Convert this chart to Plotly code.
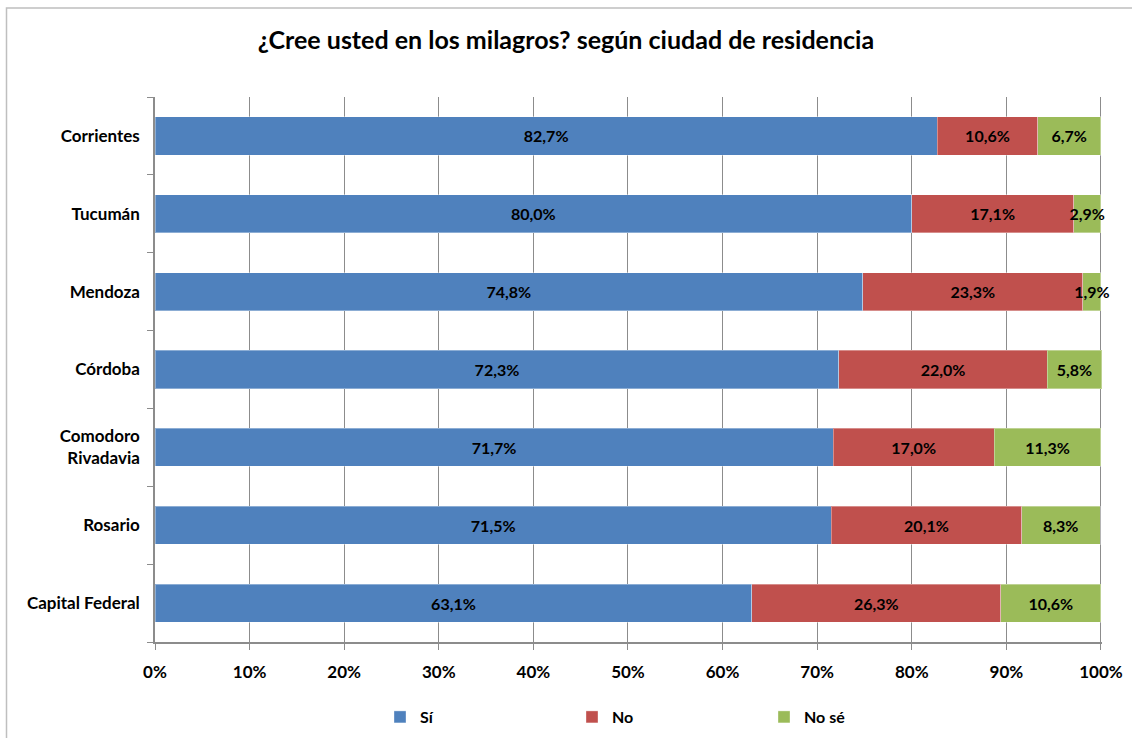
import plotly.graph_objects as go

cities = ["Capital Federal", "Rosario", "Comodoro<br>Rivadavia", "Córdoba", "Mendoza", "Tucumán", "Corrientes"]
si = [63.1, 71.5, 71.7, 72.3, 74.8, 80.0, 82.7]
no = [26.3, 20.1, 17.0, 22.0, 23.3, 17.1, 10.6]
nose = [10.6, 8.3, 11.3, 5.8, 1.9, 2.9, 6.7]
series = [("Sí", si, "#4F81BD"), ("No", no, "#C0504D"), ("No sé", nose, "#9BBB59")]
xticks = [0, 10, 20, 30, 40, 50, 60, 70, 80, 90, 100]

FONT = "Lato"
W, H = 1132, 738
L, R, T, B = 155, 30, 97, 96
pw, ph = W - L - R, H - T - B

fig = go.Figure()
for name, vals, col in series:
    fig.add_trace(go.Bar(
        y=cities, x=vals, name=name, orientation="h",
        marker=dict(color=col, line=dict(color="rgba(255,255,255,0.35)", width=1)),
        text=[f"{v:.1f}%".replace(".", ",") for v in vals],
        textposition="inside", insidetextanchor="middle", textangle=0,
        constraintext="none", cliponaxis=False,
        textfont=dict(family=FONT, size=16, color="black", weight="bold"),
        width=0.49,
    ))

def px_x(p):
    return (p - L) / pw

def px_y(p):
    return (H - B - p) / ph

fig.update_layout(
    barmode="stack",
    width=W, height=H,
    margin=dict(l=L, r=R, t=T, b=B, autoexpand=False),
    paper_bgcolor="white", plot_bgcolor="white",
    font=dict(family=FONT, size=16, color="black"),
    title=dict(text="<b>¿Cree usted en los milagros? según ciudad de residencia</b>",
               x=0.5, xanchor="center", y=1 - 40 / H, yanchor="middle",
               font=dict(family=FONT, size=25, color="black")),
    showlegend=True,
    legend=dict(orientation="h", x=px_x(380), xanchor="left", y=px_y(717), yanchor="middle",
                entrywidth=147, entrywidthmode="pixels", traceorder="normal",
                font=dict(family=FONT, size=16, color="black", weight="bold")),
)
fig.update_xaxes(range=[0, 100.11], tickvals=xticks, ticktext=[f"{v}%" for v in xticks],
                 showgrid=True, gridcolor="#8C8C8C", gridwidth=1,
                 showline=True, linecolor="#8C8C8C", linewidth=1.5,
                 ticks="outside", ticklen=6, tickcolor="#8C8C8C",
                 tickfont=dict(family=FONT, size=17, color="black", weight="bold"),
                 ticklabelstandoff=8,
                 zeroline=False, fixedrange=True)
fig.update_yaxes(categoryorder="array", categoryarray=cities,
                 showline=True, linecolor="#8C8C8C", linewidth=1.5,
                 ticks="outside", ticklen=6, tickcolor="#8C8C8C", tickson="boundaries",
                 tickfont=dict(family=FONT, size=17, color="black", weight="bold"),
                 ticklabelstandoff=10, showgrid=False, fixedrange=True)

fig.add_shape(type="rect", xref="paper", yref="paper",
              x0=px_x(6.5), x1=px_x(1145), y0=px_y(760), y1=px_y(8),
              line=dict(color="#BFBFBF", width=1.5), fillcolor="rgba(0,0,0,0)", layer="below")

fig.write_html("out.html", config={"displayModeBar": False},
               post_script="document.body.style.margin='0px';document.body.style.overflow='hidden';")
